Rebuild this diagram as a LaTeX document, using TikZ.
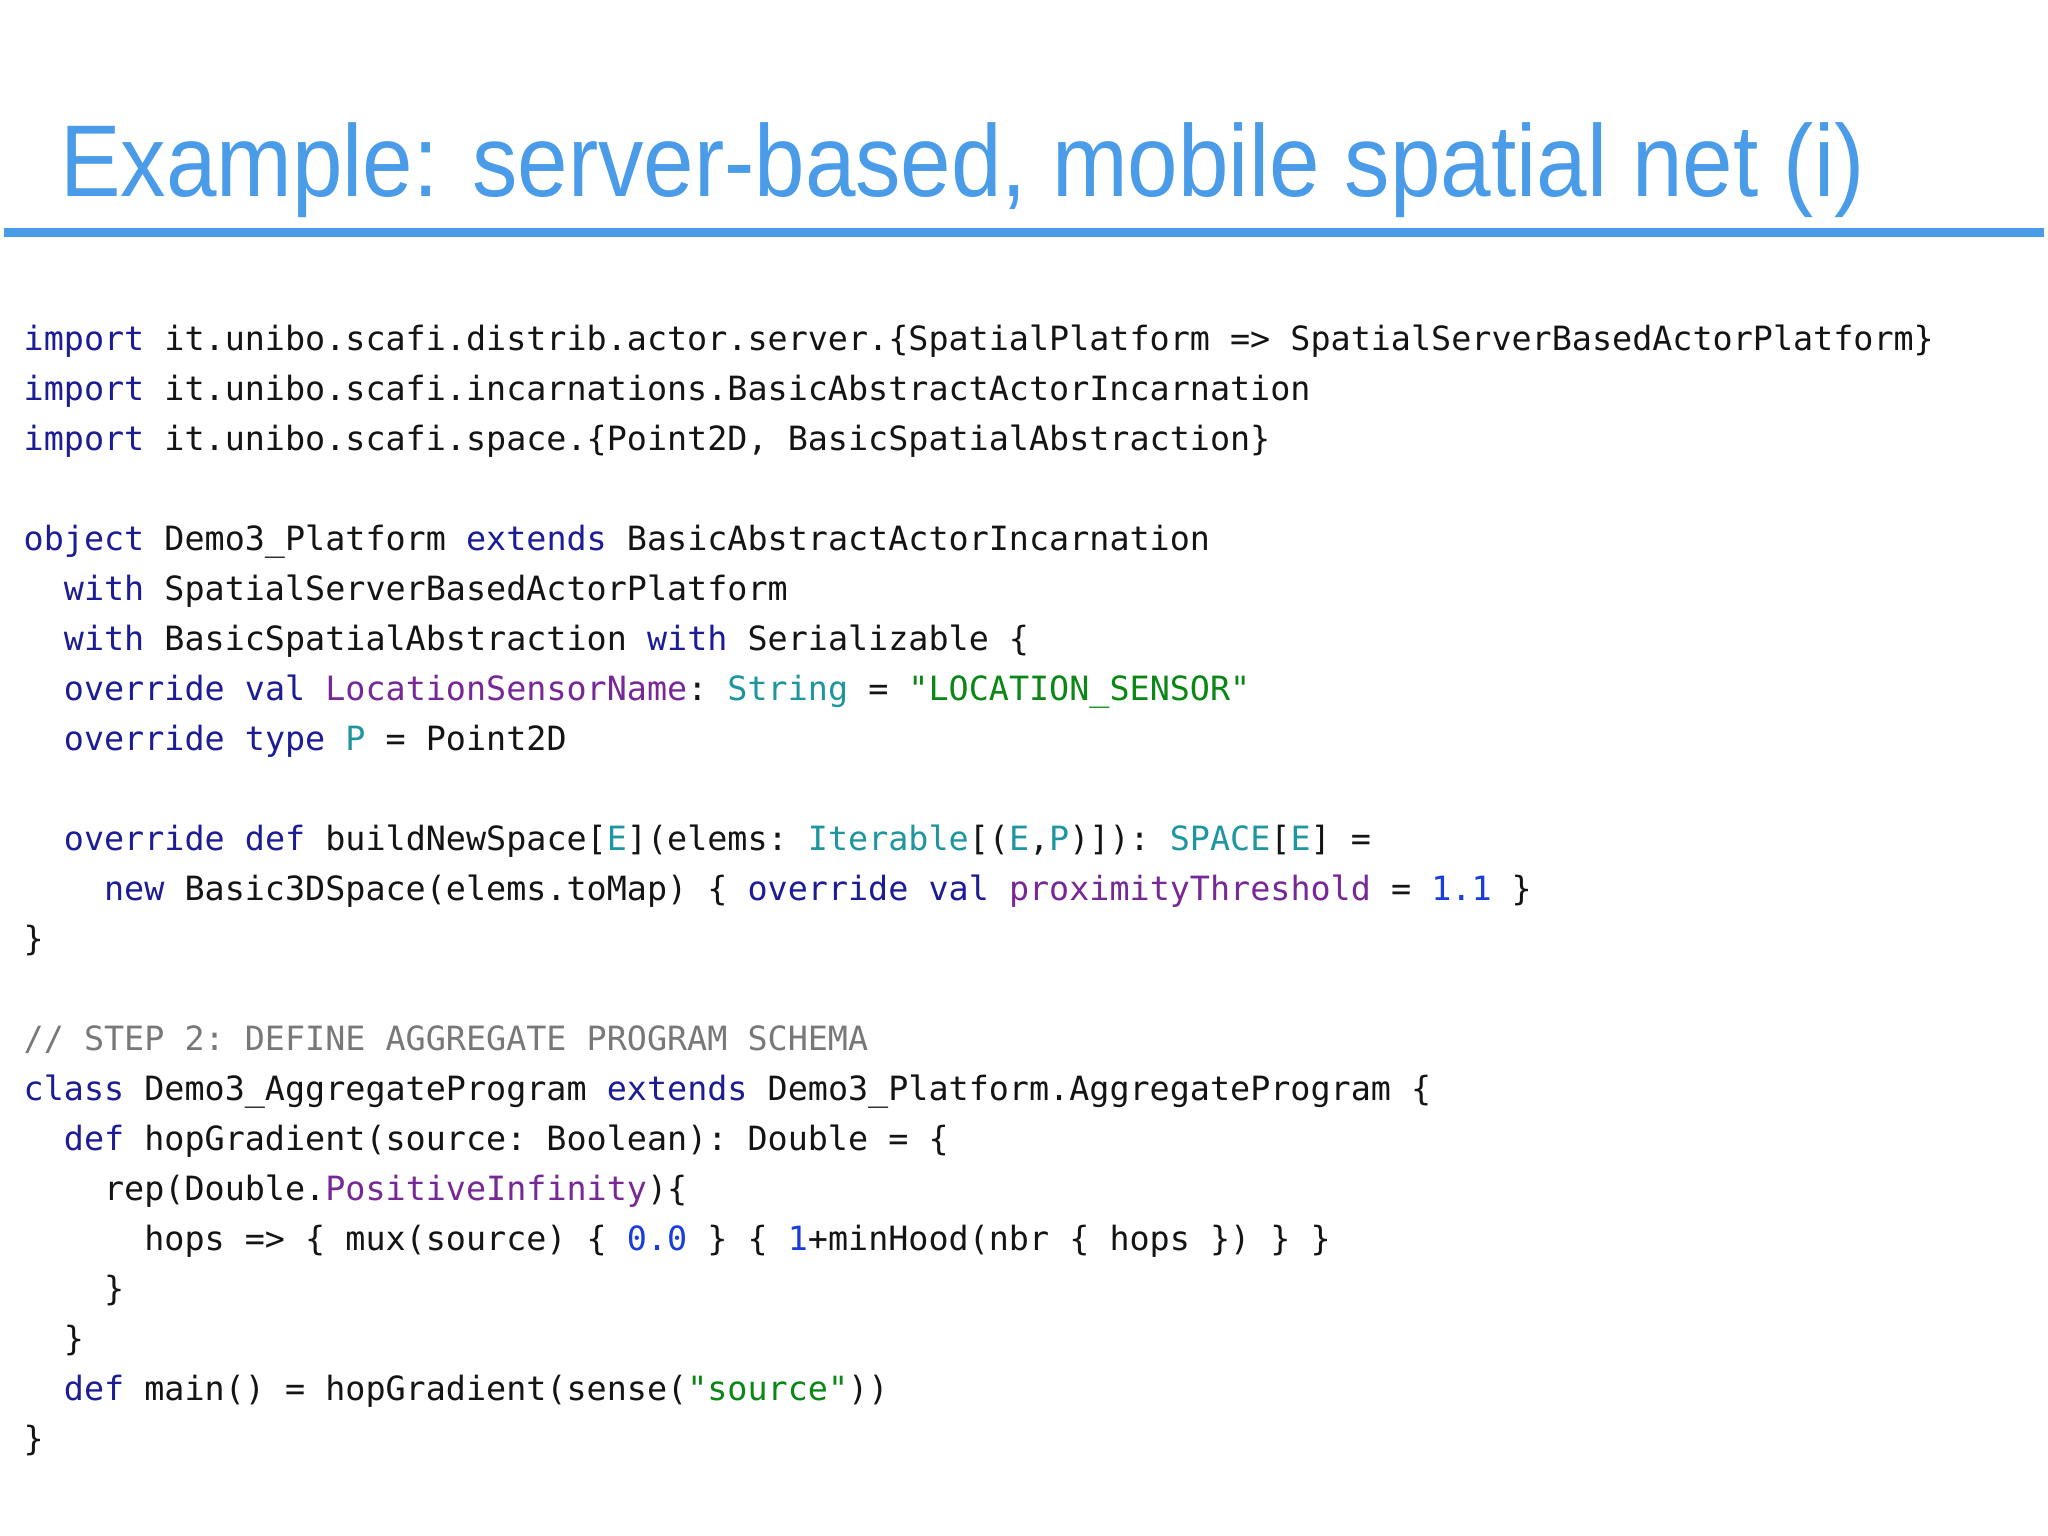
\documentclass[tikz,border=0pt]{standalone}
\usepackage{fontspec}
\setmainfont{Liberation Sans}
\setmonofont{DejaVu Sans Mono}
\definecolor{titleblue}{RGB}{74,155,232}
\definecolor{kwc}{RGB}{28,28,150}
\definecolor{purc}{RGB}{120,40,150}
\definecolor{typc}{RGB}{30,150,160}
\definecolor{strc}{RGB}{10,135,20}
\definecolor{numc}{RGB}{25,60,225}
\definecolor{cmtc}{RGB}{120,120,120}
\definecolor{txtc}{RGB}{20,20,20}
\newcommand{\kwd}[1]{\textcolor{kwc}{#1}}
\newcommand{\pur}[1]{\textcolor{purc}{#1}}
\newcommand{\typ}[1]{\textcolor{typc}{#1}}
\newcommand{\strg}[1]{\textcolor{strc}{#1}}
\newcommand{\numb}[1]{\textcolor{numc}{#1}}
\newcommand{\cmt}[1]{\textcolor{cmtc}{#1}}
\begin{document}
\begin{tikzpicture}[x=1pt,y=-1pt,
  code/.style={anchor=base west,inner sep=0pt,font=\fontsize{33.4}{40}\ttfamily,text=txtc}]
\useasboundingbox[fill=white] (0,0) rectangle (2048,1536);
\node[anchor=base west,inner sep=0pt,font=\fontsize{102}{110}\selectfont,text=titleblue,xscale=0.89,transform shape] (title) at (60,196) {Example: server-based, mobile spatial net (i)};
\fill[titleblue] (4,228) rectangle (2044,237);
\node[code] (l0) at (23.5,350) {\kwd{import} it.unibo.scafi.distrib.actor.server.\{SpatialPlatform => SpatialServerBasedActorPlatform\}};
\node[code] (l1) at (23.5,400) {\kwd{import} it.unibo.scafi.incarnations.BasicAbstractActorIncarnation};
\node[code] (l2) at (23.5,450) {\kwd{import} it.unibo.scafi.space.\{Point2D, BasicSpatialAbstraction\}};
\node[code] (l4) at (23.5,550) {\kwd{object} Demo3\_Platform \kwd{extends} BasicAbstractActorIncarnation};
\node[code] (l5) at (23.5,600) {\ \ \kwd{with} SpatialServerBasedActorPlatform};
\node[code] (l6) at (23.5,650) {\ \ \kwd{with} BasicSpatialAbstraction \kwd{with} Serializable \{};
\node[code] (l7) at (23.5,700) {\ \ \kwd{override} \kwd{val} \pur{LocationSensorName}: \typ{String} = \strg{"LOCATION\_SENSOR"}};
\node[code] (l8) at (23.5,750) {\ \ \kwd{override} \kwd{type} \typ{P} = Point2D};
\node[code] (l10) at (23.5,850) {\ \ \kwd{override} \kwd{def} buildNewSpace[\typ{E}](elems: \typ{Iterable}[(\typ{E},\typ{P})]): \typ{SPACE}[\typ{E}] =};
\node[code] (l11) at (23.5,900) {\ \ \ \ \kwd{new} Basic3DSpace(elems.toMap) \{ \kwd{override} \kwd{val} \pur{proximityThreshold} = \numb{1.1} \}};
\node[code] (l12) at (23.5,950) {\}};
\node[code] (l14) at (23.5,1050) {\cmt{// STEP 2: DEFINE AGGREGATE PROGRAM SCHEMA}};
\node[code] (l15) at (23.5,1100) {\kwd{class} Demo3\_AggregateProgram \kwd{extends} Demo3\_Platform.AggregateProgram \{};
\node[code] (l16) at (23.5,1150) {\ \ \kwd{def} hopGradient(source: Boolean): Double = \{};
\node[code] (l17) at (23.5,1200) {\ \ \ \ rep(Double.\pur{PositiveInfinity})\{};
\node[code] (l18) at (23.5,1250) {\ \ \ \ \ \ hops => \{ mux(source) \{ \numb{0.0} \} \{ \numb{1}+minHood(nbr \{ hops \}) \} \}};
\node[code] (l19) at (23.5,1300) {\ \ \ \ \}};
\node[code] (l20) at (23.5,1350) {\ \ \}};
\node[code] (l21) at (23.5,1400) {\ \ \kwd{def} main() = hopGradient(sense(\strg{"source"}))};
\node[code] (l22) at (23.5,1450) {\}};
\end{tikzpicture}
\end{document}
